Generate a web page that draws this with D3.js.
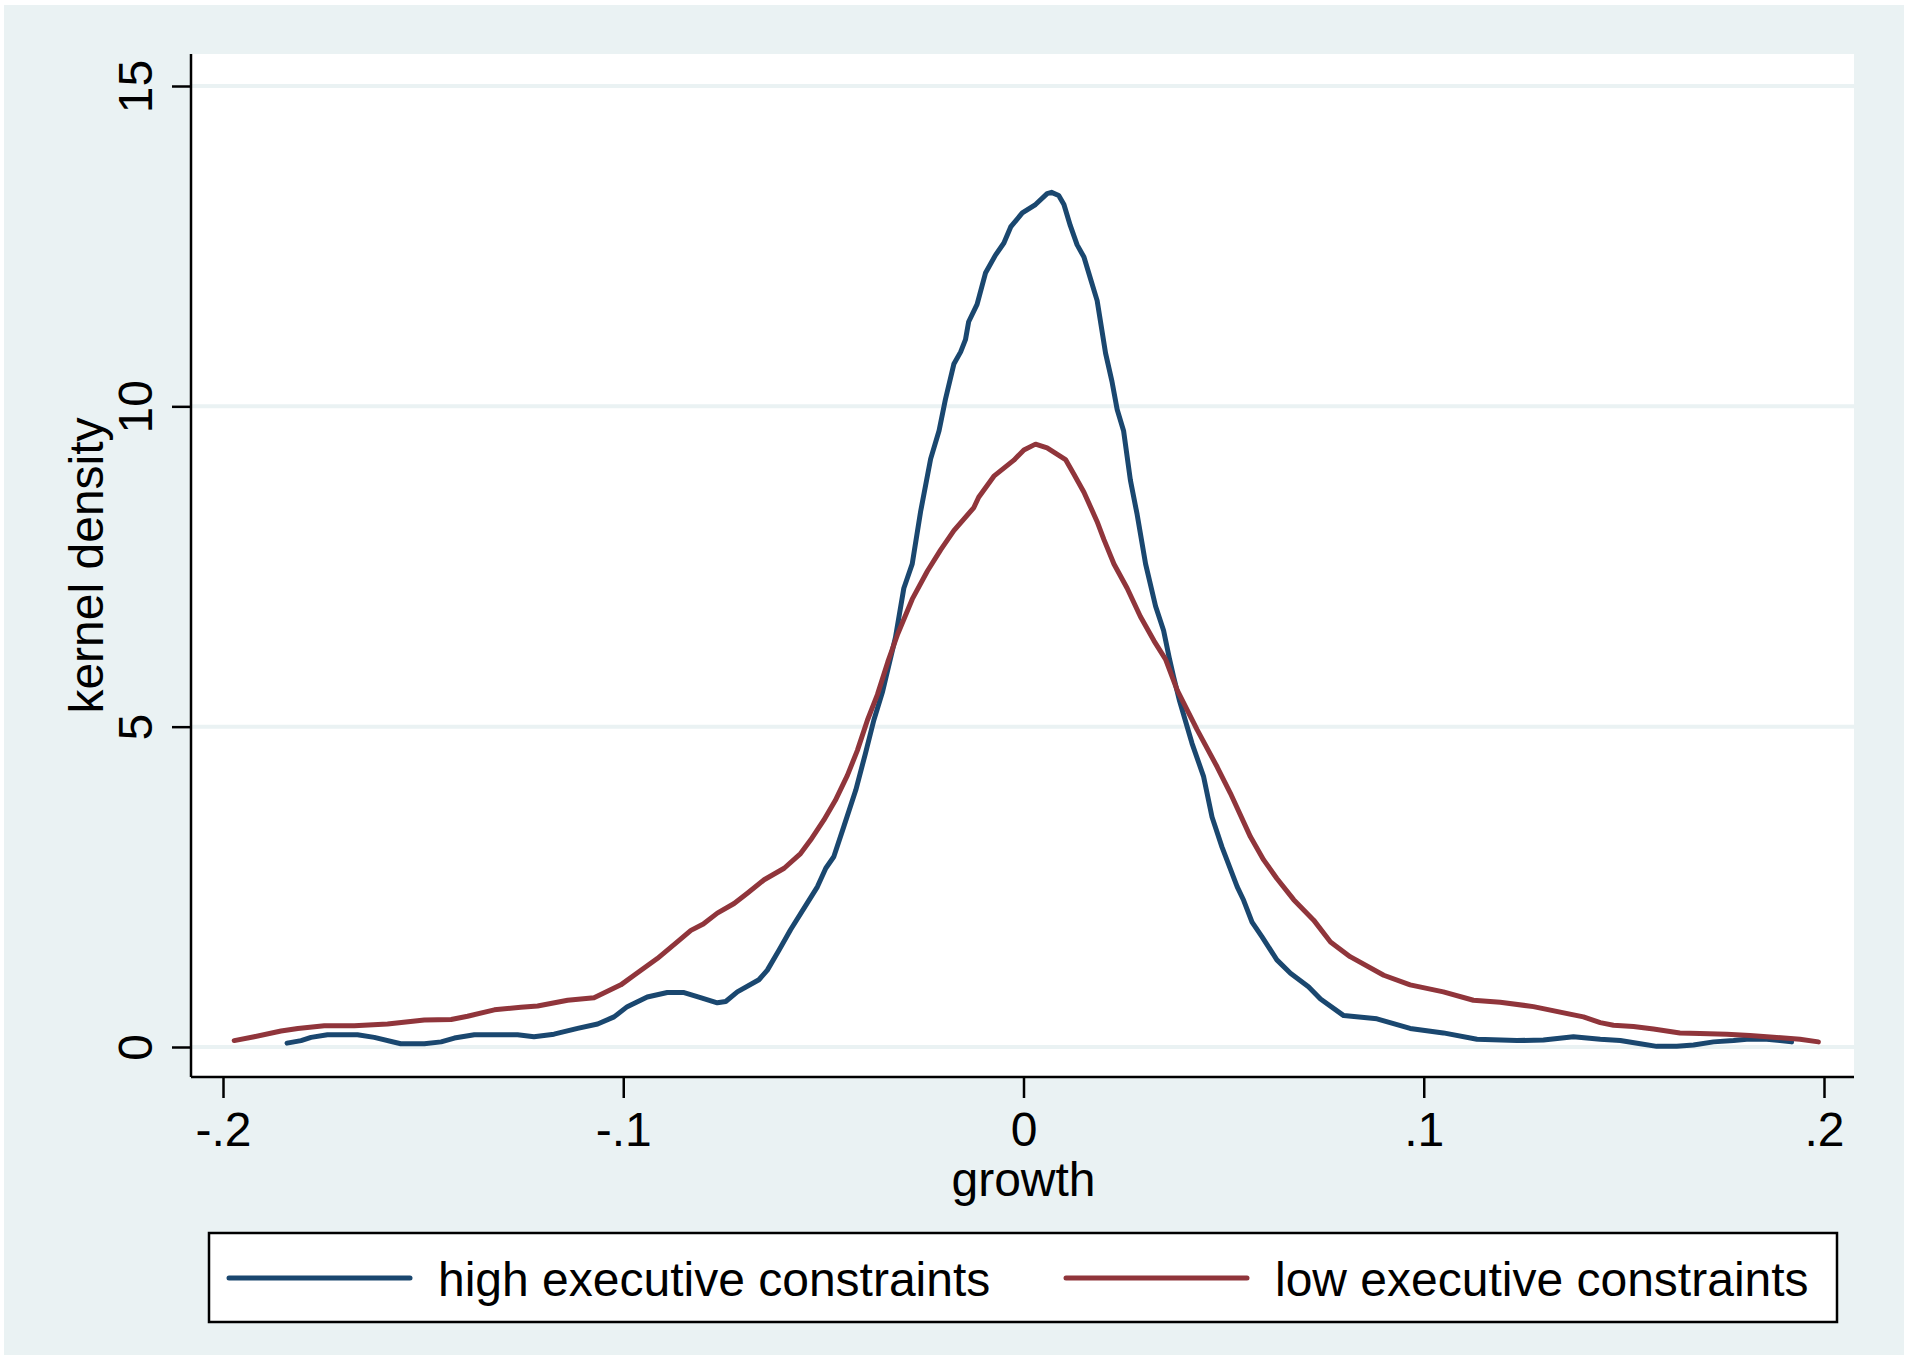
<!DOCTYPE html>
<html>
<head>
<meta charset="utf-8">
<script src="https://cdn.jsdelivr.net/npm/d3@7"></script>
<style>
  body { margin: 0; background: #fff; }
  svg { display: block; }
  text { font-family: "Liberation Sans", Arial, sans-serif; fill: #000; }
</style>
</head>
<body>
<svg id="chart"></svg>
<script>
// kernel density of growth, two groups
var highGrowth = [-0.1840,-0.1805,-0.1780,-0.1739,-0.1664,-0.1622,-0.1556,-0.1497,-0.1455,-0.1422,-0.1372,-0.1264,-0.1223,-0.1173,-0.1114,-0.1064,-0.1023,-0.0990,-0.0940,-0.0890,-0.0848,-0.0807,-0.0765,-0.0744,-0.0715,-0.0661,-0.0640,-0.0611,-0.0582,-0.0549,-0.0515,-0.0494,-0.0474,-0.0449,-0.0419,-0.0395,-0.0374,-0.0352,-0.0320,-0.0299,-0.0278,-0.0257,-0.0232,-0.0211,-0.0195,-0.0174,-0.0157,-0.0145,-0.0137,-0.0116,-0.0095,-0.0070,-0.0049,-0.0032,-0.0003,0.0030,0.0059,0.0070,0.0088,0.0101,0.0117,0.0134,0.0151,0.0167,0.0184,0.0205,0.0221,0.0234,0.0250,0.0267,0.0284,0.0305,0.0330,0.0350,0.0365,0.0375,0.0390,0.0421,0.0450,0.0471,0.0496,0.0534,0.0550,0.0571,0.0596,0.0633,0.0667,0.0712,0.0742,0.0800,0.0883,0.0966,0.1049,0.1133,0.1233,0.1299,0.1374,0.1441,0.1491,0.1541,0.1582,0.1632,0.1674,0.1724,0.1774,0.1807,0.1857,0.1890,0.1919]
var highDensity = [0.06,0.10,0.15,0.19,0.19,0.15,0.05,0.05,0.08,0.14,0.19,0.19,0.16,0.20,0.29,0.36,0.47,0.63,0.78,0.85,0.85,0.77,0.69,0.71,0.86,1.05,1.20,1.51,1.83,2.16,2.50,2.79,2.97,3.44,4.01,4.58,5.10,5.55,6.39,7.16,7.54,8.36,9.18,9.62,10.11,10.66,10.85,11.04,11.32,11.59,12.08,12.36,12.55,12.80,13.02,13.15,13.32,13.34,13.29,13.15,12.82,12.52,12.33,12.00,11.65,10.83,10.39,9.95,9.62,8.85,8.31,7.54,6.88,6.50,6.05,5.78,5.40,4.74,4.22,3.59,3.12,2.50,2.29,1.95,1.72,1.36,1.15,0.94,0.75,0.49,0.44,0.29,0.22,0.12,0.10,0.11,0.16,0.12,0.10,0.05,0.01,0.01,0.03,0.08,0.10,0.12,0.12,0.10,0.08]

var lowGrowth = [-0.1972,-0.1922,-0.1855,-0.1813,-0.1747,-0.1672,-0.1589,-0.1497,-0.1430,-0.1389,-0.1322,-0.1256,-0.1214,-0.1139,-0.1073,-0.1006,-0.0973,-0.0915,-0.0865,-0.0831,-0.0800,-0.0765,-0.0723,-0.0690,-0.0648,-0.0598,-0.0557,-0.0532,-0.0499,-0.0470,-0.0440,-0.0415,-0.0390,-0.0365,-0.0339,-0.0314,-0.0278,-0.0240,-0.0207,-0.0174,-0.0124,-0.0112,-0.0074,-0.0024,0.0001,0.0030,0.0059,0.0105,0.0126,0.0151,0.0184,0.0201,0.0226,0.0259,0.0292,0.0326,0.0355,0.0384,0.0434,0.0484,0.0517,0.0567,0.0600,0.0633,0.0675,0.0725,0.0767,0.0816,0.0900,0.0966,0.1049,0.1124,0.1191,0.1274,0.1399,0.1441,0.1474,0.1524,0.1574,0.1640,0.1690,0.1757,0.1815,0.1882,0.1940,0.1986]
var lowDensity = [0.10,0.16,0.25,0.29,0.33,0.33,0.36,0.42,0.43,0.48,0.58,0.62,0.64,0.73,0.77,0.97,1.12,1.38,1.64,1.82,1.92,2.09,2.24,2.40,2.61,2.79,3.02,3.23,3.54,3.85,4.24,4.63,5.10,5.50,6.01,6.45,6.99,7.43,7.76,8.06,8.42,8.58,8.91,9.16,9.32,9.41,9.35,9.17,8.94,8.66,8.20,7.92,7.54,7.16,6.72,6.34,6.05,5.57,4.95,4.37,3.96,3.28,2.92,2.63,2.30,1.98,1.64,1.41,1.12,0.97,0.86,0.73,0.70,0.63,0.47,0.38,0.34,0.32,0.28,0.22,0.21,0.20,0.18,0.15,0.12,0.08]

var xTicks = [-0.2, -0.1, 0, 0.1, 0.2]
var xTickLabels = ['-.2', '-.1', '0', '.1', '.2']
var yTicks = [0, 5, 10, 15]
var seriesNames = ['high executive constraints', 'low executive constraints']
var seriesColors = ['#1a476f', '#90353b']

var width = 1908
var height = 1359
var plotLeft = 191, plotRight = 1854, plotTop = 54, plotBottom = 1077

var svg = d3.select('#chart')
  .attr('width', width)
  .attr('height', height)

// outer stata background
svg.append('rect')
  .attr('x', 4).attr('y', 5)
  .attr('width', 1900).attr('height', 1350)
  .attr('fill', '#eaf2f3')

svg.append('rect')
  .attr('x', plotLeft).attr('y', plotTop)
  .attr('width', plotRight - plotLeft).attr('height', plotBottom - plotTop)
  .attr('fill', '#fff')

var x = d3.scaleLinear().domain([-0.2, 0.2]).range([223, 1824])
var y = d3.scaleLinear().domain([0, 15]).range([1047, 86])

// gridlines
svg.append('g')
  .selectAll('line')
  .data(yTicks)
  .enter()
  .append('line')
    .attr('x1', plotLeft).attr('x2', plotRight)
    .attr('y1', d => y(d)).attr('y2', d => y(d))
    .attr('stroke', '#eaf2f3')
    .attr('stroke-width', 4)

// axes
var xAxis = d3.axisBottom(x)
  .tickValues(xTicks)
  .tickFormat((d, i) => xTickLabels[i])
  .tickSize(21)
  .tickPadding(14)
  .tickSizeOuter(0)

var gx = svg.append('g')
  .attr('transform', 'translate(0,' + plotBottom + ')')
  .call(xAxis)
gx.select('.domain').remove()
gx.append('line')
  .attr('x1', plotLeft).attr('x2', plotRight)
  .attr('stroke', '#000').attr('stroke-width', 2.5)
gx.selectAll('.tick line').attr('stroke', '#000').attr('stroke-width', 2.5)
gx.selectAll('.tick text')
  .attr('font-size', 48)
  .attr('font-family', '"Liberation Sans", Arial, sans-serif')
  .attr('fill', '#000')

var yAxis = d3.axisLeft(y)
  .tickValues(yTicks)
  .tickFormat(d3.format('d'))
  .tickSize(19)
  .tickSizeOuter(0)

var gy = svg.append('g')
  .attr('transform', 'translate(' + plotLeft + ',0)')
  .call(yAxis)
gy.select('.domain').remove()
gy.append('line')
  .attr('y1', plotTop).attr('y2', plotBottom)
  .attr('stroke', '#000').attr('stroke-width', 2.5)
gy.selectAll('.tick line').attr('stroke', '#000').attr('stroke-width', 2.5)
gy.selectAll('.tick text')
  .attr('x', null).attr('dy', null)
  .attr('transform', 'translate(-39,0) rotate(-90)')
  .attr('text-anchor', 'middle')
  .attr('font-size', 48)
  .attr('font-family', '"Liberation Sans", Arial, sans-serif')
  .attr('fill', '#000')

// axis titles
svg.append('text')
  .text('growth')
  .attr('x', x(0))
  .attr('y', 1196)
  .attr('text-anchor', 'middle')
  .attr('font-size', 48)

svg.append('text')
  .text('kernel density')
  .attr('transform', 'translate(103,' + (plotTop + plotBottom) / 2 + ') rotate(-90)')
  .attr('text-anchor', 'middle')
  .attr('font-size', 48)

// density lines
var series = [
  { name: seriesNames[0], color: seriesColors[0], pts: highGrowth.map((g, i) => [g, highDensity[i]]) },
  { name: seriesNames[1], color: seriesColors[1], pts: lowGrowth.map((g, i) => [g, lowDensity[i]]) }
]

var line = d3.line()
  .x(d => x(d[0]))
  .y(d => y(d[1]))

svg.append('g')
  .selectAll('path')
  .data(series)
  .enter()
  .append('path')
    .attr('d', d => line(d.pts))
    .attr('fill', 'none')
    .attr('stroke', d => d.color)
    .attr('stroke-width', 5)
    .attr('stroke-linejoin', 'round')
    .attr('stroke-linecap', 'round')

// legend
svg.append('rect')
  .attr('x', 209).attr('y', 1233)
  .attr('width', 1628).attr('height', 89)
  .attr('fill', '#fff')
  .attr('stroke', '#000')
  .attr('stroke-width', 2.5)

var legendX = [229, 1066]
var legend = svg.append('g')
  .selectAll('g')
  .data(series)
  .enter()
  .append('g')
    .attr('transform', (d, i) => 'translate(' + legendX[i] + ',1278)')

legend.append('line')
  .attr('x1', 0).attr('x2', 181)
  .attr('stroke', d => d.color)
  .attr('stroke-width', 5)
  .attr('stroke-linecap', 'round')

legend.append('text')
  .text(d => d.name)
  .attr('x', 209)
  .attr('y', 18)
  .attr('font-size', 48)
</script>
</body>
</html>
